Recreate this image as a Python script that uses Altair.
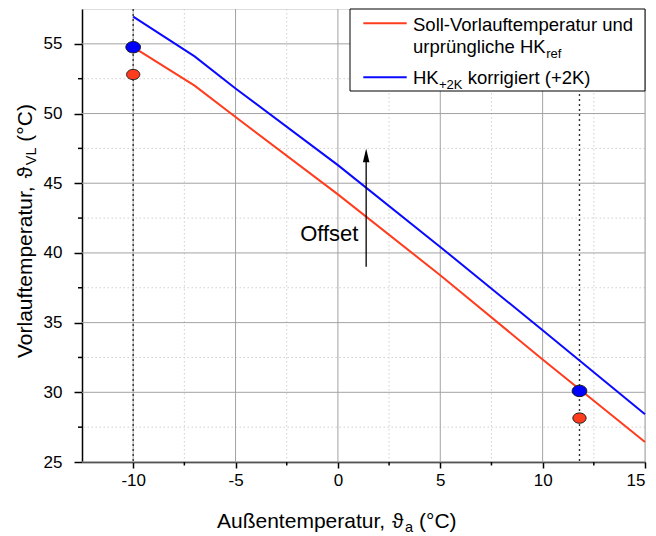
import altair as alt
import pandas as pd

# ---- data ----
x_temp = [-10, -7, -5, 0, 5, 10, 15]
soll = [54.76, 52.0, 49.75, 44.2, 38.4, 32.35, 26.44]
korr = [56.95, 54.1, 51.8, 46.3, 40.43, 34.45, 28.43]

marker_x = [-10, 11.8]
marker_blue = [54.76, 30.1]
marker_red = [52.8, 28.15]

x_major = [-10, -5, 0, 5, 10, 15]
x_minor = [-7.5, -2.5, 2.5, 7.5, 12.5]
y_major = [25, 30, 35, 40, 45, 50, 55]
y_minor = [27.5, 32.5, 37.5, 42.5, 47.5, 52.5]

arrow_x = [1.38]
arrow_y0 = [39.0]
arrow_y1 = [47.0]
offset_label = ["Offset"]
offset_pos = [-0.42, 40.84]

FONT = "Liberation Sans"
RED = "#ff3c1e"
BLUE = "#0a0aff"
W, H = 563, 453

xs = alt.Scale(domain=[-12.5, 15], nice=False, zero=False)
ys = alt.Scale(domain=[25, 57.5], nice=False, zero=False)

xaxis = alt.Axis(values=x_major, title=None, grid=False,
                 tickSize=6, tickWidth=1.5, tickColor="black",
                 domainColor="black", domainWidth=1.5, labelFontSize=17, labelColor="black",
                 labelFont=FONT, labelPadding=4, labelExpr="'' + datum.value")
yaxis = alt.Axis(values=y_major, title=None, grid=False,
                 tickSize=8, tickWidth=1.5, tickColor="black",
                 domainColor="black", domainWidth=1.5, labelFontSize=17, labelColor="black",
                 labelFont=FONT, labelPadding=12, labelExpr="'' + datum.value")


def X(f="x"):
    return alt.X(f"{f}:Q", scale=xs, axis=xaxis, title=None)


def Y(f="y"):
    return alt.Y(f"{f}:Q", scale=ys, axis=yaxis, title=None)


soll_df = pd.DataFrame({"x": x_temp, "y": soll})
korr_df = pd.DataFrame({"x": x_temp, "y": korr})
blue_df = pd.DataFrame({"x": marker_x, "y": marker_blue})
red_df = pd.DataFrame({"x": marker_x, "y": marker_red})

xminor_grid = alt.Chart(pd.DataFrame({"x": x_minor})).mark_rule(
    color="#d0d0d0", strokeDash=[1.5, 2.5], strokeWidth=1).encode(x=X())
yminor_grid = alt.Chart(pd.DataFrame({"y": y_minor})).mark_rule(
    color="#d0d0d0", strokeDash=[1.5, 2.5], strokeWidth=1).encode(y=Y())
xmajor_grid = alt.Chart(pd.DataFrame({"x": x_major})).mark_rule(
    color="#a3a3a3", strokeWidth=1).encode(x=X())
ymajor_grid = alt.Chart(pd.DataFrame({"y": y_major})).mark_rule(
    color="#a3a3a3", strokeWidth=1).encode(y=Y())

xminor_tick = alt.Chart(pd.DataFrame({"x": x_minor})).mark_rule(
    color="black", strokeWidth=1.5).encode(x=X(), y=alt.value(H), y2=alt.value(H + 3.5))
yminor_tick = alt.Chart(pd.DataFrame({"y": y_minor})).mark_rule(
    color="black", strokeWidth=1.5).encode(y=Y(), x=alt.value(-4), x2=alt.value(0))

vlines = alt.Chart(pd.DataFrame({"x": marker_x})).mark_rule(
    color="#333333", strokeDash=[2, 3], strokeWidth=1.4).encode(x=X())

red_line = alt.Chart(soll_df).mark_line(color=RED, strokeWidth=2).encode(x=X(), y=Y())
blue_line = alt.Chart(korr_df).mark_line(color=BLUE, strokeWidth=2).encode(x=X(), y=Y())

ELLIPSE = "M-1,0A1,0.78,0,1,1,1,0A1,0.78,0,1,1,-1,0Z"
blue_pts = alt.Chart(blue_df).mark_point(shape=ELLIPSE, filled=True, fill="#0000ff",
    stroke="#1a1a1a", strokeWidth=1, size=215, opacity=1).encode(x=X(), y=Y())
red_pts = alt.Chart(red_df).mark_point(shape=ELLIPSE, filled=True, fill=RED,
    stroke="#1a1a1a", strokeWidth=1, size=175, opacity=1).encode(x=X(), y=Y())

arrow_df = pd.DataFrame({"x": arrow_x, "y": arrow_y0, "y1": arrow_y1})
arrow_line = alt.Chart(arrow_df).mark_rule(color="black", strokeWidth=1.3).encode(
    x=X(), y=Y(), y2="y1:Q")
head_df = pd.DataFrame({"x": arrow_x, "y": arrow_y1})
arrow_head = alt.Chart(head_df).mark_point(shape="M0,-1L0.48,1L-0.48,1Z", filled=True,
    color="black", size=185, opacity=1).encode(x=X(), y=Y())

offset_df = pd.DataFrame({"t": offset_label, "x": [offset_pos[0]], "y": [offset_pos[1]]})
offset_txt = alt.Chart(offset_df).mark_text(
    font=FONT, fontSize=22, color="black", align="center", baseline="alphabetic").encode(
    x=X(), y=Y(), text="t:N")


def ptext(s, x, y, size, angle=0, align="left"):
    return alt.Chart(pd.DataFrame({"t": [s]})).mark_text(
        font=FONT, fontSize=size, color="black", align=align, baseline="alphabetic",
        angle=angle).encode(x=alt.value(x), y=alt.value(y), text="t:N")


def prule(x1, x2, y, color):
    return alt.Chart(pd.DataFrame({"k": [0]})).mark_rule(color=color, strokeWidth=2).encode(
        x=alt.value(x1), x2=alt.value(x2), y=alt.value(y))


# legend
LF = 18.5
LS = 13
lx = 331
legend_box = alt.Chart(pd.DataFrame({"k": [0]})).mark_rect(
    fill="white", stroke="black", strokeWidth=1).encode(
    x=alt.value(268), x2=alt.value(W), y=alt.value(0), y2=alt.value(82))
ref_x = lx + 7.169 * LF + 0.5
sub2_x = lx + 1.389 * LF + 0.3
kor_x = sub2_x + 1.807 * LS + 0.278 * LF
legend = [
    legend_box,
    prule(281.3, 324.7, 14.3, RED),
    prule(281.3, 324.7, 68.3, BLUE),
    ptext("Soll-Vorlauftemperatur und", lx, 21.7, LF),
    ptext("urprüngliche HK", lx, 44.3, LF),
    ptext("ref", ref_x, 49.3, LS),
    ptext("HK", lx, 75, LF),
    ptext("+2K", sub2_x, 80.3, LS),
    ptext("korrigiert (+2K)", kor_x, 75, LF),
]

# axis titles (with subscripts)
F = 21
SUB = 14.5
xt_base = 519
x1 = 135
xth = x1 + 8.337 * F
xa = xth + 0.62 * F
xc = xa + 0.556 * SUB + 0.278 * F
x_title = [
    ptext("Außentemperatur,", x1, xt_base, F),
    ptext("ϑ", xth, xt_base, F),
    ptext("a", xa, xt_base + 4, SUB),
    ptext("(°C)", xc, xt_base, F),
]

yt_base = -50.3
y1 = 349
yth = y1 - 8.559 * F
yvl = yth - 0.62 * F
yc = yvl - 1.223 * SUB - 0.278 * F
y_title = [
    ptext("Vorlauftemperatur,", yt_base, y1, F, angle=270),
    ptext("ϑ", yt_base, yth, F, angle=270),
    ptext("VL", yt_base + 4, yvl, SUB, angle=270),
    ptext("(°C)", yt_base, yc, F, angle=270),
]

chart = alt.layer(
    xminor_grid, yminor_grid, xmajor_grid, ymajor_grid, xminor_tick, yminor_tick, vlines,
    red_line, blue_line, blue_pts, red_pts, arrow_line, arrow_head, offset_txt,
    *legend, *x_title, *y_title
).properties(
    width=W, height=H,
    autosize=alt.AutoSizeParams(type="none"),
    padding={"left": 82, "top": 9, "right": 11, "bottom": 74},
).configure_view(stroke="black", strokeWidth=1.5).configure(font=FONT, background="white")

chart.save("out.html", embed_options={"renderer": "svg", "actions": False})
